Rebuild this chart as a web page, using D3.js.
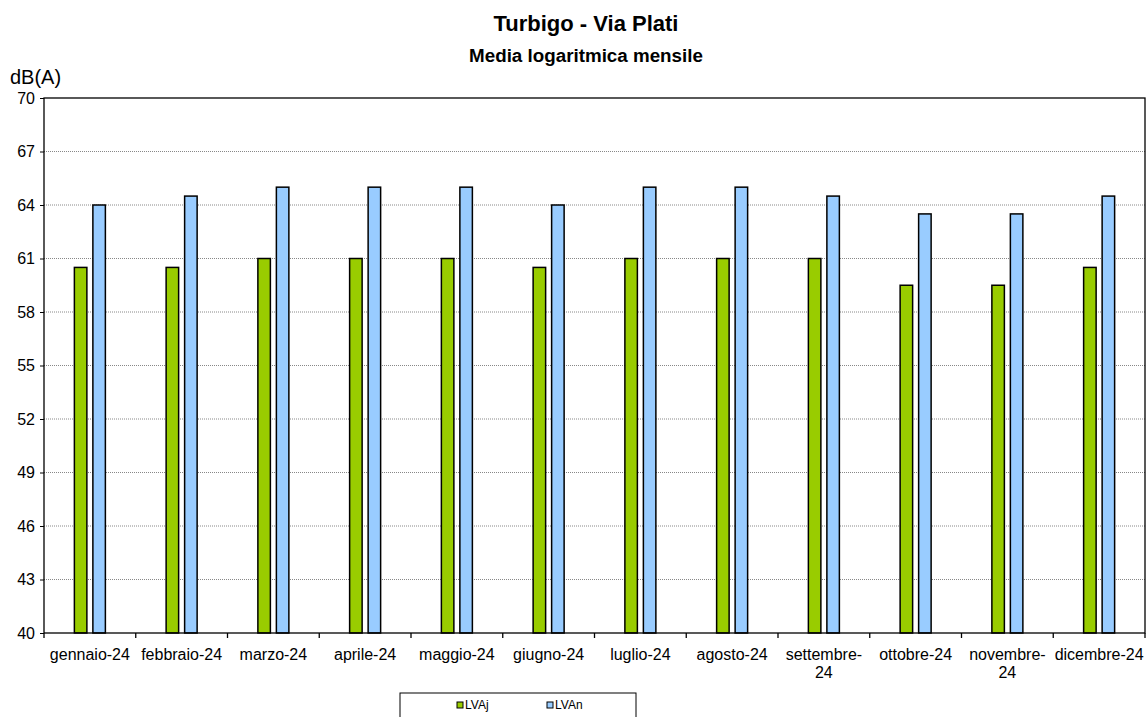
<!DOCTYPE html>
<html>
<head>
<meta charset="utf-8">
<script src="https://cdn.jsdelivr.net/npm/d3@7"></script>
<style>
  body { margin: 0; background: #fff; }
  text { font-family: Arial, "Liberation Sans", sans-serif; fill: #000; }
</style>
</head>
<body>
<div id="chart"></div>
<script>
// chart data
var months = ["gennaio-24", "febbraio-24", "marzo-24", "aprile-24", "maggio-24", "giugno-24",
              "luglio-24", "agosto-24", "settembre-24", "ottobre-24", "novembre-24", "dicembre-24"];
var lvaj = [60.5, 60.5, 61, 61, 61, 60.5, 61, 61, 61, 59.5, 59.5, 60.5];
var lvan = [64, 64.5, 65, 65, 65, 64, 65, 65, 64.5, 63.5, 63.5, 64.5];
var yTicks = [40, 43, 46, 49, 52, 55, 58, 61, 64, 67, 70];
var seriesNames = ["LVAj", "LVAn"];
var seriesColors = ["#99cc00", "#99ccff"];

var W = 1146, H = 717;
var margin = {top: 98, right: 1, bottom: 84, left: 44};
var width = W - margin.left - margin.right,
    height = H - margin.top - margin.bottom;

var svg = d3.select("#chart").append("svg")
    .attr("width", W).attr("height", H);

// titles
svg.append("text").attr("x", 586).attr("y", 31)
    .attr("text-anchor", "middle").style("font-size", "22px").style("font-weight", "bold")
    .text("Turbigo - Via Plati");
svg.append("text").attr("x", 586).attr("y", 62)
    .attr("text-anchor", "middle").style("font-size", "18.8px").style("font-weight", "bold")
    .text("Media logaritmica mensile");
svg.append("text").attr("x", 10).attr("y", 84)
    .style("font-size", "20px").text("dB(A)");

var g = svg.append("g").attr("transform", "translate(" + margin.left + "," + margin.top + ")");

var x = d3.scaleBand().domain(months).range([0, width]);
var y = d3.scaleLinear().domain([40, 70]).range([height, 0]);

// gridlines
g.selectAll(".grid").data(yTicks.slice(1, -1)).enter().append("line")
    .attr("x1", 0).attr("x2", width)
    .attr("y1", function(d) { return y(d); }).attr("y2", function(d) { return y(d); })
    .attr("stroke", "#888").attr("stroke-width", 1).attr("stroke-dasharray", "1,1");

// bars
var barW = 12.5, gap = 6;
var series = [lvaj, lvan];
series.forEach(function(vals, si) {
    g.selectAll(".bar" + si).data(vals).enter().append("rect")
        .attr("x", function(d, i) {
            return x(months[i]) + x.bandwidth() / 2 - barW - gap / 2 + si * (barW + gap);
        })
        .attr("y", function(d) { return y(d); })
        .attr("width", barW)
        .attr("height", function(d) { return height - y(d); })
        .attr("fill", seriesColors[si])
        .attr("stroke", "#000").attr("stroke-width", 1.5);
});

// plot frame
g.append("rect").attr("x", 0).attr("y", 0).attr("width", width).attr("height", height)
    .attr("fill", "none").attr("stroke", "#000").attr("stroke-width", 1.3);

// y axis
var yAxis = d3.axisLeft(y).tickValues(yTicks).tickSize(4).tickPadding(5);
var ya = g.append("g").call(yAxis);
ya.select(".domain").remove();
ya.selectAll("text").style("font-size", "16px").style("font-family", "Arial, 'Liberation Sans', sans-serif");
ya.selectAll("line").attr("stroke", "#000");

// x axis: ticks at category boundaries
var bounds = months.map(function(m) { return x(m); }).concat([width]);
g.selectAll(".xtick").data(bounds).enter().append("line")
    .attr("x1", function(d) { return d; }).attr("x2", function(d) { return d; })
    .attr("y1", height).attr("y2", height + 5)
    .attr("stroke", "#000").attr("stroke-width", 1.3);

var xl = g.selectAll(".xlab").data(months).enter().append("text")
    .attr("text-anchor", "middle").style("font-size", "16px")
    .attr("x", function(d) { return x(d) + x.bandwidth() / 2; })
    .attr("y", height + 27);
xl.each(function(d) {
    var t = d3.select(this);
    if (d === "settembre-24" || d === "novembre-24") {
        var parts = d.split("-");
        t.append("tspan").attr("x", x(d) + x.bandwidth() / 2).text(parts[0] + "-");
        t.append("tspan").attr("x", x(d) + x.bandwidth() / 2).attr("dy", 18).text(parts[1]);
    } else {
        t.text(d);
    }
});

// legend
var lg = svg.append("g");
lg.append("rect").attr("x", 400).attr("y", 693).attr("width", 236).attr("height", 30)
    .attr("fill", "#fff").attr("stroke", "#000").attr("stroke-width", 1);
var legX = [457, 547];
seriesNames.forEach(function(n, i) {
    lg.append("rect").attr("x", legX[i]).attr("y", 702).attr("width", 6).attr("height", 6)
        .attr("fill", seriesColors[i]).attr("stroke", "#000").attr("stroke-width", 1);
    lg.append("text").attr("x", legX[i] + 8).attr("y", 709)
        .style("font-size", "12px").text(n);
});
</script>
</body>
</html>
